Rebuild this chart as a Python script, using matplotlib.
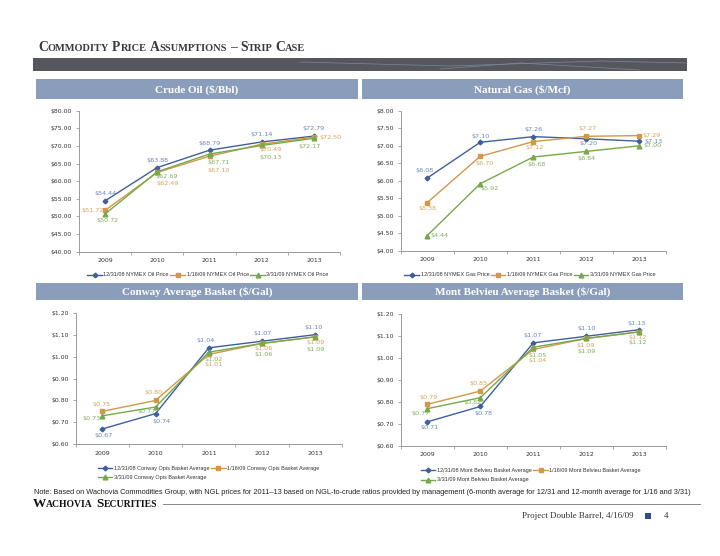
import matplotlib
matplotlib.use('Agg')
import matplotlib.pyplot as plt
from matplotlib.patches import Rectangle
from matplotlib.lines import Line2D

W, H = 720, 556

years = ['2009', '2010', '2011', '2012', '2013']

oil_1231 = [54.44, 63.88, 68.79, 71.14, 72.79]
oil_0116 = [51.72, 62.49, 67.10, 70.49, 72.50]
oil_0331 = [50.72, 62.69, 67.71, 70.13, 72.17]

gas_1231 = [6.08, 7.10, 7.26, 7.20, 7.13]
gas_0116 = [5.38, 6.70, 7.12, 7.27, 7.29]
gas_0331 = [4.44, 5.92, 6.68, 6.84, 7.00]

conway_1231 = [0.67, 0.74, 1.04, 1.07, 1.10]
conway_0116 = [0.75, 0.80, 1.01, 1.06, 1.09]
conway_0331 = [0.73, 0.77, 1.02, 1.06, 1.09]

mb_1231 = [0.71, 0.78, 1.07, 1.10, 1.13]
mb_0116 = [0.79, 0.85, 1.04, 1.09, 1.12]
mb_0331 = [0.77, 0.82, 1.05, 1.09, 1.12]

oil_names = ['12/31/08 NYMEX Oil Price', '1/16/09 NYMEX Oil Price', '3/31/09 NYMEX Oil Price']
gas_names = ['12/31/08 NYMEX Gas Price', '1/16/09 NYMEX Gas Price', '3/31/09 NYMEX Gas Price']
conway_names = ['12/31/08 Conway Opis Basket Average', '1/16/09 Conway Opis Basket Average',
                '3/31/09 Conway Opis Basket Average']
mb_names = ['12/31/08 Mont Belvieu Basket Average', '1/16/09 Mont Belvieu Basket Average',
            '3/31/09 Mont Belvieu Basket Average']

line_cols = ['#3f5f9c', '#d1984a', '#78a84c']
text_cols = ['#6a86b8', '#d9a35a', '#80b05c']
markers = ['D', 's', '^']
msizes = [2.4, 3.4, 3.4]

# label offsets (pixels) per series per point
oil_off = [[(0, 7), (0, 7), (0, 7), (0, 7), (0, 8)],
           [(-13, 0), (10, -11), (9, -14), (9, -5), (17, 0)],
           [(2, -7), (9, -5), (9, -8), (9, -12), (-4, -8)]]
gas_off = [[(-3, 8), (0, 6), (0, 7), (2, -5), (14, 0)],
           [(0, -6), (4, -7), (1, -6), (1, 8), (12, 0)],
           [(12, 0), (9, -5), (3, -8), (0, -7), (13, 0)]]
conway_off = [[(1, -7), (6, -8), (-3, 7), (0, 8), (-2, 7)],
              [(-1, 7), (-2, 8), (5, -10), (2, -5), (0, -6)],
              [(-11, -3), (-9, -4), (5, -7), (2, -11), (0, -13)]]
mb_off = [[(2, -6), (3, -7), (-1, 7), (0, 8), (-3, 6)],
          [(1, 7), (-2, 8), (4, -11), (-1, -7), (-2, -6)],
          [(-7, -5), (-8, -5), (4, -8), (0, -13), (-2, -11)]]

fig = plt.figure(figsize=(7.2, 5.56), dpi=100)
fig.patch.set_facecolor('white')


def fx(x):
    return x / W


def fy(y):
    return 1 - y / H


def rect(x0, y0, x1, y1, color):
    fig.add_artist(Rectangle((fx(x0), fy(y1)), (x1 - x0) / W, (y1 - y0) / H,
                             transform=fig.transFigure, facecolor=color, edgecolor='none'))


def small_caps(x, y, text, big, small, **kw):
    renderer = fig.canvas.get_renderer()
    px = x
    runs = []
    for ch in text:
        is_big = not ch.islower()
        if runs and runs[-1][1] == is_big and ch != ' ' and runs[-1][0][-1] != ' ':
            runs[-1][0] += ch.upper()
        else:
            runs.append([ch.upper(), is_big])
    for s, is_big in runs:
        if s == ' ':
            px += big * 0.32
            continue
        t = fig.text(fx(px), fy(y), s, fontsize=big if is_big else small,
                     va='baseline', ha='left', **kw)
        px += t.get_window_extent(renderer).width


def panel(box, hdr, title, ylim, yticks, fmt, series, names, offs):
    x0, y0, x1, y1 = box
    ax = fig.add_axes([fx(x0), fy(y1), (x1 - x0) / W, (y1 - y0) / H])
    rect(hdr[0], hdr[1], hdr[2], hdr[3], '#8a9dbb')
    fig.text(fx((hdr[0] + hdr[2]) / 2), fy((hdr[1] + hdr[3]) / 2 + 0.5), title,
             color='white', fontsize=8, fontweight='bold', family='Liberation Serif',
             ha='center', va='center')
    xs = list(range(len(years)))
    handles = []
    for i, vals in enumerate(series):
        h, = ax.plot(xs, vals, color=line_cols[i], lw=1.0, marker=markers[i],
                     ms=msizes[i], mfc=line_cols[i], mec=line_cols[i], label=names[i])
        handles.append(h)
        for j, v in enumerate(vals):
            ax.annotate(fmt.format(v), (xs[j], v), xytext=offs[i][j],
                        textcoords='offset pixels', ha='center', va='center',
                        fontsize=4.6, color=text_cols[i])
    ax.set_xlim(-0.5, len(years) - 0.5)
    ax.set_ylim(*ylim)
    ax.set_yticks(yticks)
    ax.set_yticklabels([fmt.format(t) for t in yticks])
    ax.set_xticks(xs)
    ax.set_xticklabels(years)
    ax.set_xticks([k - 0.5 for k in range(len(years) + 1)], minor=True)
    ax.tick_params(axis='x', which='major', length=0, pad=4.5, labelsize=4.5, labelcolor='#333333')
    ax.tick_params(axis='x', which='minor', length=2.5, color='#9a9a9a', width=0.6)
    ax.tick_params(axis='y', length=2.5, color='#9a9a9a', width=0.6, labelsize=4.4,
                   labelcolor='#333333', pad=2.5)
    for s in ['top', 'right']:
        ax.spines[s].set_visible(False)
    for s in ['left', 'bottom']:
        ax.spines[s].set_color('#9a9a9a')
        ax.spines[s].set_linewidth(0.7)
    ax.set_facecolor('none')
    return handles


h_oil = panel((79, 110.7, 340, 251.7), (36, 79, 358, 99), 'Crude Oil ($/Bbl)', (40, 80),
              [40, 45, 50, 55, 60, 65, 70, 75, 80], '${:.2f}',
              [oil_1231, oil_0116, oil_0331], oil_names, oil_off)
h_gas = panel((400.7, 110.7, 666, 251), (362, 79, 683, 99), 'Natural Gas ($/Mcf)', (4, 8),
              [4, 4.5, 5, 5.5, 6, 6.5, 7, 7.5, 8], '${:.2f}',
              [gas_1231, gas_0116, gas_0331], gas_names, gas_off)
h_con = panel((75.7, 312.7, 342, 444.3), (36, 283, 358, 300), 'Conway Average Basket ($/Gal)',
              (0.6, 1.2), [0.6, 0.7, 0.8, 0.9, 1.0, 1.1, 1.2], '${:.2f}',
              [conway_1231, conway_0116, conway_0331], conway_names, conway_off)
h_mb = panel((400.7, 314.3, 666, 446), (362, 283, 683, 300), 'Mont Belvieu Average Basket ($/Gal)',
             (0.6, 1.2), [0.6, 0.7, 0.8, 0.9, 1.0, 1.1, 1.2], '${:.2f}',
             [mb_1231, mb_0116, mb_0331], mb_names, mb_off)

leg_kw = dict(frameon=False, prop={'family': 'Liberation Sans', 'size': 4.0}, handlelength=2.6,
              handletextpad=0.3, columnspacing=0.3, borderpad=0, labelcolor='#333333')
fig.legend(h_oil, oil_names, loc='center', bbox_to_anchor=(fx(208), fy(275)), ncol=3, **leg_kw)
fig.legend(h_gas, gas_names, loc='center', bbox_to_anchor=(fx(530), fy(275)), ncol=3, **leg_kw)
fig.legend([h_con[0], h_con[2], h_con[1]], [conway_names[0], conway_names[2], conway_names[1]],
           loc='upper left', bbox_to_anchor=(fx(95), fy(463)), ncol=2, labelspacing=0.75, **leg_kw)
fig.legend([h_mb[0], h_mb[2], h_mb[1]], [mb_names[0], mb_names[2], mb_names[1]],
           loc='upper left', bbox_to_anchor=(fx(418), fy(465.5)), ncol=2, labelspacing=0.75, **leg_kw)

# banner
rect(33, 58, 687, 71, '#55575d')
fig.add_artist(Line2D([fx(300), fx(450), fx(600), fx(687)], [fy(62), fy(66), fy(61), fy(63)],
                      transform=fig.transFigure, color='#7c8798', lw=0.5))
fig.add_artist(Line2D([fx(440), fx(520), fx(640)], [fy(69), fy(63), fy(70)],
                      transform=fig.transFigure, color='#7c8798', lw=0.5))

small_caps(38, 51, 'Commodity Price Assumptions \u2013 Strip Case', 9.8, 7.45,
           family='Liberation Serif', fontweight='bold', color='#3a3a3a')

# footer
fig.text(fx(34), fy(494), 'Note: Based on Wachovia Commodities Group, with NGL prices for 2011\u201313 based on '
         'NGL-to-crude ratios provided by management (6-month average for 12/31 and 12-month '
         'average for 1/16 and 3/31)', fontsize=5.3, family='Liberation Sans', color='#222222',
         va='baseline', ha='left')
small_caps(33, 507, 'Wachovia Securities', 9.5, 6.9, family='Liberation Serif',
           fontweight='bold', color='#111111')
fig.add_artist(Line2D([fx(163), fx(700)], [fy(503.5), fy(503.5)], transform=fig.transFigure,
                      color='#888888', lw=0.7))
fig.text(fx(633), fy(516), 'Project Double Barrel, 4/16/09', fontsize=6.5, family='Liberation Serif',
         color='#333333', ha='right', va='center')
rect(645, 513, 650.5, 518.5, '#2e4f8f')
fig.text(fx(666), fy(516), '4', fontsize=6.5, family='Liberation Serif', color='#333333',
         ha='center', va='center')

fig.savefig('out.png', dpi=100)
